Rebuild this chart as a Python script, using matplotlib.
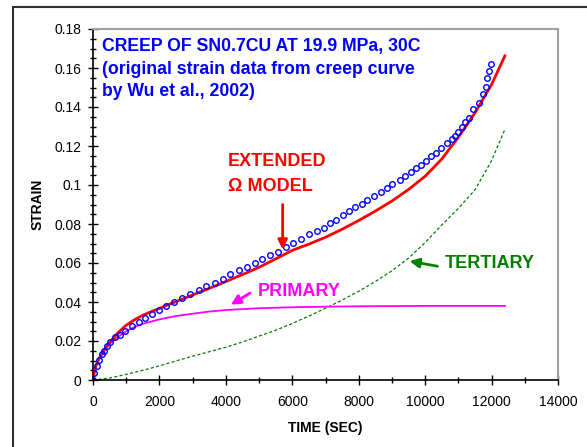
import numpy as np
import matplotlib.pyplot as plt
from matplotlib.patches import Rectangle
from matplotlib.ticker import MultipleLocator

plt.rcParams['font.family'] = ['Liberation Sans', 'DejaVu Sans']

# measured creep data (Wu et al., 2002)
t_exp = [0, 40, 110, 180, 260, 320, 410, 510, 660, 810, 960, 1170, 1390, 1580, 1790,
         2000, 2200, 2430, 2690, 2930, 3180, 3400, 3660, 3900, 4130, 4390, 4630, 4870,
         5100, 5340, 5570, 5800, 6010, 6260, 6490, 6740, 6940, 7140, 7320, 7520, 7710,
         7900, 8090, 8260, 8460, 8660, 8840, 9010, 9240, 9390, 9560, 9720, 9890, 10040,
         10190, 10340, 10490, 10650, 10800, 10900, 11000, 11100, 11200, 11330, 11450,
         11620, 11730, 11820, 11870, 11920, 11980]
e_exp = [0, 0.0036, 0.0073, 0.0103, 0.0132, 0.015, 0.0174, 0.0196, 0.0219, 0.023, 0.0253,
         0.0277, 0.0297, 0.0316, 0.0337, 0.0359, 0.038, 0.040, 0.0419, 0.0439, 0.0462,
         0.0483, 0.0499, 0.0518, 0.0544, 0.0566, 0.0578, 0.0602, 0.0621, 0.0641, 0.0658,
         0.068, 0.0701, 0.0723, 0.0747, 0.0766, 0.0781, 0.0803, 0.082, 0.0846, 0.0868,
         0.0885, 0.0903, 0.0923, 0.0944, 0.0966, 0.0983, 0.1005, 0.1026, 0.1046, 0.1065,
         0.1086, 0.1103, 0.1123, 0.1149, 0.1166, 0.1188, 0.1215, 0.1235, 0.125, 0.1273,
         0.1296, 0.1325, 0.1342, 0.1388, 0.1422, 0.1467, 0.1504, 0.1547, 0.1586, 0.162]

# extended omega model
t_mod = [0, 50, 100, 200, 350, 500, 750, 1000, 1250, 1500, 1750, 2000, 2250, 2500, 2750,
         3000, 3250, 3500, 3750, 4000, 4500, 5000, 5500, 6000, 6500, 7000, 7500, 8000,
         8500, 9000, 9500, 10000, 10500, 11000, 11500, 12000, 12400]
e_mod = [0, 0.005, 0.0078, 0.0115, 0.0157, 0.0192, 0.0242, 0.0281, 0.0309, 0.0332, 0.035,
         0.0367, 0.0385, 0.0402, 0.0419, 0.0436, 0.0453, 0.047, 0.0487, 0.0505, 0.0541,
         0.0578, 0.0621, 0.0665, 0.0697, 0.0732, 0.0773, 0.0818, 0.0866, 0.0918, 0.0977,
         0.1045, 0.1133, 0.1245, 0.137, 0.1515, 0.1662]

# primary component
t_pri = [0, 50, 100, 200, 350, 500, 750, 1000, 1250, 1500, 2000, 2500, 3000, 3500, 4000,
         5000, 6000, 7000, 8000, 9000, 10000, 11000, 12400]
e_pri = [0, 0.005, 0.0078, 0.0113, 0.015, 0.0185, 0.022, 0.025, 0.0272, 0.0288, 0.0311,
         0.0328, 0.034, 0.0351, 0.0359, 0.0368, 0.0373, 0.0376, 0.0378, 0.0379, 0.038,
         0.038, 0.038]

# tertiary component
t_ter = [0, 500, 1000, 1500, 2000, 2500, 3000, 3500, 4000, 4500, 5000, 5500, 6000, 6500,
         7000, 7500, 8000, 8500, 9000, 9500, 10000, 10500, 11000, 11500, 12000, 12400]
e_ter = [0, 0.001, 0.0029, 0.005, 0.0072, 0.0098, 0.0122, 0.0145, 0.0168, 0.0195, 0.0225,
         0.0255, 0.029, 0.0328, 0.0368, 0.041, 0.0455, 0.0505, 0.056, 0.0625, 0.0705,
         0.0795, 0.088, 0.0975, 0.1125, 0.1285]

fig = plt.figure(figsize=(5.87, 4.47), dpi=100)
ax = fig.add_axes([93/587, 1-380/447, 465/587, 351/447])

# outer frame (only top/left visible in the original)
fig.patches.append(Rectangle((13/587, -0.2), 1.5, 1.2 - 7/447, transform=fig.transFigure,
                             fill=False, lw=1.5, ec='#303030'))

ax.plot(t_ter, e_ter, color='#008000', lw=0.9, dashes=(2.5, 1.8))
ax.plot(t_pri, e_pri, color='#ff00ff', lw=1.3)
ax.plot(t_mod, e_mod, color='#ff0000', lw=2.0)
ax.plot(t_exp, e_exp, 'o', mfc='none', mec='#0000ff', ms=4, mew=1.0)

ax.set_xlim(0, 14000)
ax.set_ylim(0, 0.18)
ax.xaxis.set_major_locator(MultipleLocator(2000))
ax.xaxis.set_minor_locator(MultipleLocator(1000))
ax.yaxis.set_minor_locator(MultipleLocator(0.005))
ax.set_yticks(np.arange(0, 0.181, 0.02))
ax.set_yticklabels(['0', '0.02', '0.04', '0.06', '0.08', '0.1', '0.12', '0.14', '0.16', '0.18'])
ax.tick_params(which='major', direction='inout', length=7, width=1, labelsize=10, pad=5)
ax.tick_params(which='minor', direction='inout', length=4.5, width=1)
ax.tick_params(axis='x', which='major', pad=7)
for s in ['top', 'right']:
    ax.spines[s].set_color('#a0a0a0')
    ax.spines[s].set_linewidth(1.5)
for s in ['left', 'bottom']:
    ax.spines[s].set_linewidth(1.2)

ax.set_xlabel('TIME (SEC)', fontsize=10, fontweight='bold', labelpad=9)
ax.set_ylabel('STRAIN', fontsize=10, fontweight='bold', labelpad=7)

blue = '#0000ff'
ax.text(0.019, 0.949, 'CREEP OF SN0.7CU AT 19.9 MPa, 30C', transform=ax.transAxes,
        color=blue, fontsize=12.7, fontweight='bold', va='center')
ax.text(0.019, 0.886, '(original strain data from creep curve', transform=ax.transAxes,
        color=blue, fontsize=12.7, fontweight='bold', va='center')
ax.text(0.019, 0.823, 'by Wu et al., 2002)', transform=ax.transAxes,
        color=blue, fontsize=12.7, fontweight='bold', va='center')

ax.text(4060, 0.1120, 'EXTENDED', color='#ff0000', fontsize=13, fontweight='bold', va='center')
ax.text(4060, 0.0990, '\u03a9 MODEL', color='#ff0000', fontsize=13, fontweight='bold', va='center')
ax.annotate('', xy=(5710, 0.0655), xytext=(5710, 0.0914),
            arrowprops=dict(arrowstyle='-|>', color='#ff0000', lw=2, mutation_scale=14))

ax.text(4960, 0.0454, 'PRIMARY', color='#ff00ff', fontsize=13, fontweight='bold', va='center')
ax.annotate('', xy=(4080, 0.0379), xytext=(4800, 0.0453),
            arrowprops=dict(arrowstyle='-|>', color='#ff00ff', lw=2, mutation_scale=14))

ax.text(10600, 0.0595, 'TERTIARY', color='#008000', fontsize=13, fontweight='bold', va='center')
ax.annotate('', xy=(9450, 0.0612), xytext=(10450, 0.0581),
            arrowprops=dict(arrowstyle='-|>', color='#008000', lw=2, mutation_scale=14))

plt.savefig('out.png', dpi=100)
